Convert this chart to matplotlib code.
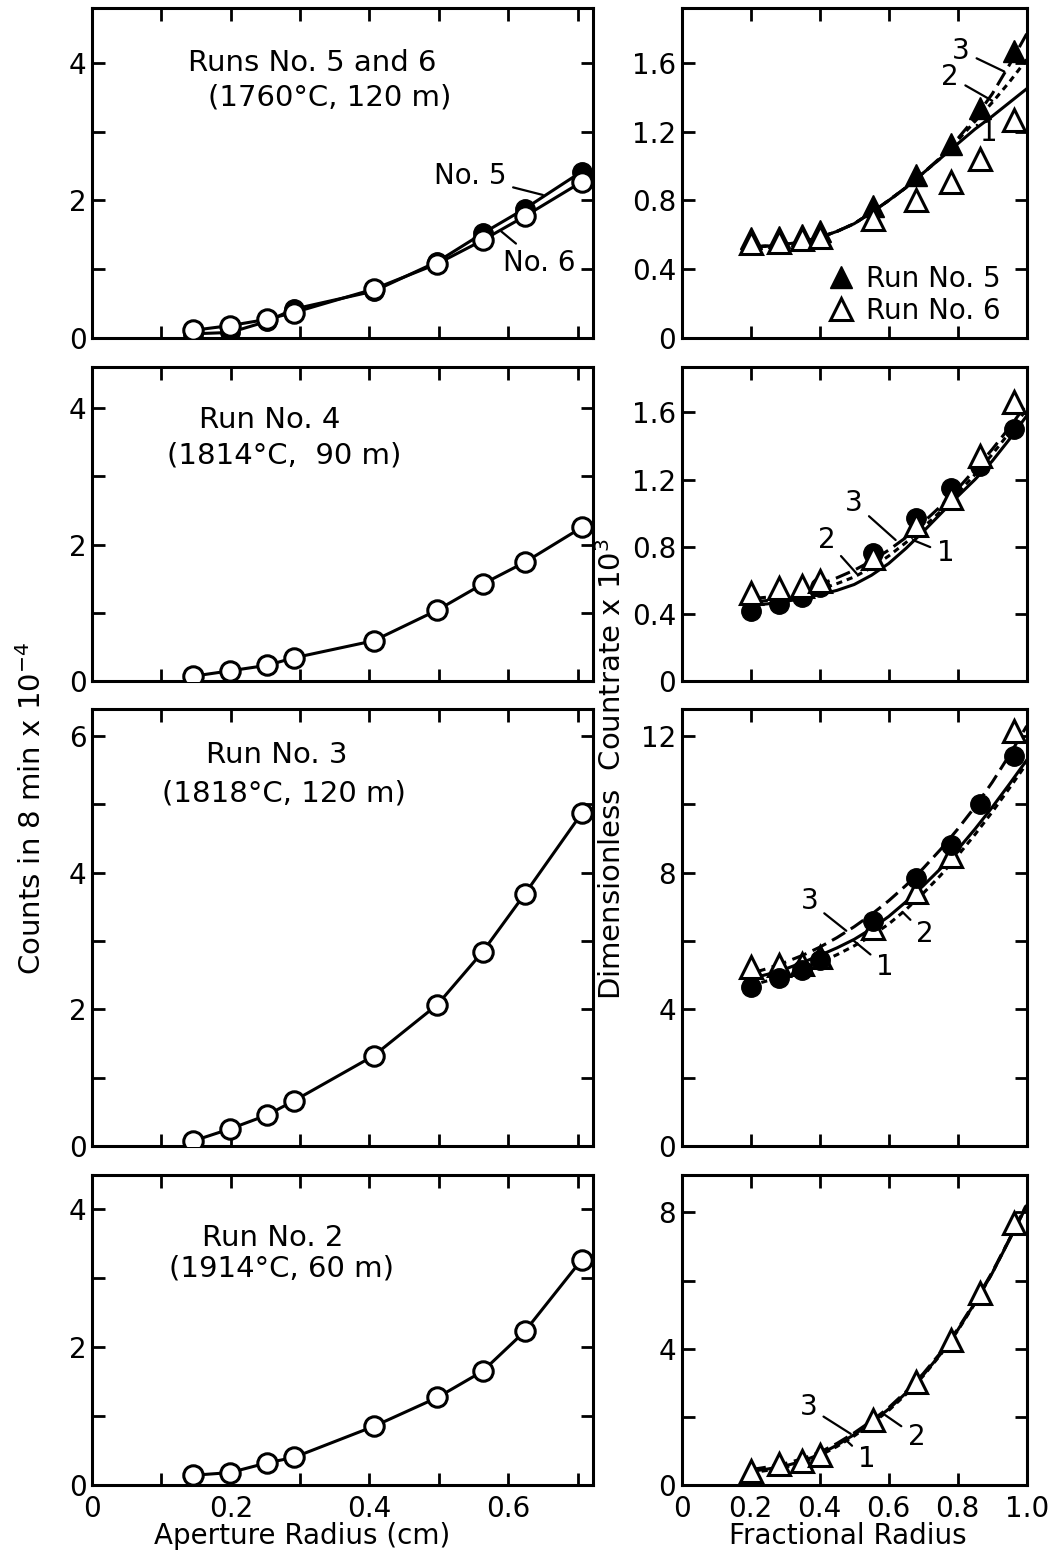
import matplotlib.pyplot as plt
import numpy as np
from matplotlib.ticker import FixedLocator, FuncFormatter

plt.rcParams['font.family'] = ['DejaVu Sans']
plt.rcParams['font.size'] = 20

# --- measured counts vs aperture radius (cm), counts in 8 min x 1e-4 ---
radius_cm = [0.145, 0.199, 0.252, 0.291, 0.406, 0.498, 0.563, 0.624, 0.706]
counts_run5 = [0.06, 0.08, 0.24, 0.42, 0.68, 1.11, 1.52, 1.88, 2.42]
counts_run6 = [0.11, 0.18, 0.27, 0.37, 0.71, 1.08, 1.42, 1.77, 2.27]
counts_run4 = [0.07, 0.15, 0.23, 0.34, 0.59, 1.04, 1.42, 1.74, 2.25]
counts_run3 = [0.07, 0.25, 0.45, 0.66, 1.32, 2.07, 2.84, 3.69, 4.87]
counts_run2 = [0.14, 0.18, 0.32, 0.40, 0.85, 1.27, 1.65, 2.23, 3.27]

# --- dimensionless countrate x 1e3 vs fractional radius ---
frac_pts = [0.201, 0.282, 0.350, 0.402, 0.555, 0.680, 0.780, 0.864, 0.963]
rate_run5 = [0.58, 0.59, 0.60, 0.62, 0.765, 0.95, 1.13, 1.34, 1.67]
rate_run6 = [0.55, 0.56, 0.575, 0.59, 0.69, 0.80, 0.91, 1.04, 1.27]
rate_r4_tri = [0.525, 0.554, 0.564, 0.594, 0.733, 0.93, 1.09, 1.34, 1.66]
rate_r4_dot = [0.42, 0.46, 0.50, 0.56, 0.765, 0.97, 1.15, 1.28, 1.50]
rate_r3_tri = [5.24, 5.29, 5.34, 5.54, 6.37, 7.45, 8.48, np.nan, 12.16]
rate_r3_dot = [4.66, 4.92, 5.15, 5.45, 6.60, 7.84, 8.82, 10.0, 11.42]
rate_r2_tri = [0.42, 0.62, 0.69, 0.87, 1.90, 3.03, 4.26, 5.64, 7.70]

# calculated curves 1, 2, 3
frac_grid = [0.20, 0.25, 0.30, 0.35, 0.40, 0.45, 0.50, 0.55, 0.60,
             0.65, 0.70, 0.75, 0.80, 0.85, 0.90, 0.95, 1.00]
r56_c1 = [0.53, 0.535, 0.545, 0.56, 0.585, 0.62, 0.665, 0.73, 0.80,
          0.875, 0.96, 1.045, 1.13, 1.215, 1.29, 1.37, 1.45]
r56_c2 = [0.53, 0.535, 0.545, 0.56, 0.585, 0.62, 0.665, 0.73, 0.80,
          0.875, 0.96, 1.045, 1.15, 1.26, 1.37, 1.49, 1.62]
r56_c3 = [0.53, 0.535, 0.545, 0.56, 0.585, 0.62, 0.665, 0.73, 0.80,
          0.875, 0.96, 1.05, 1.16, 1.28, 1.42, 1.59, 1.77]
r4_c1 = [0.45, 0.46, 0.475, 0.49, 0.515, 0.54, 0.575, 0.63, 0.70,
         0.79, 0.89, 0.995, 1.10, 1.20, 1.31, 1.44, 1.58]
r4_c2 = [0.47, 0.48, 0.495, 0.515, 0.545, 0.58, 0.62, 0.675, 0.745,
         0.825, 0.915, 1.01, 1.12, 1.23, 1.35, 1.48, 1.62]
r4_c3 = [0.49, 0.50, 0.52, 0.545, 0.575, 0.615, 0.66, 0.715, 0.78,
         0.855, 0.945, 1.04, 1.145, 1.26, 1.38, 1.51, 1.65]
r3_c1 = [4.90, 5.03, 5.18, 5.37, 5.58, 5.80, 6.05, 6.36, 6.72,
         7.15, 7.62, 8.12, 8.68, 9.28, 9.92, 10.6, 11.3]
r3_c2 = [4.70, 4.84, 5.00, 5.17, 5.37, 5.60, 5.86, 6.15, 6.50,
         6.92, 7.40, 7.92, 8.50, 9.12, 9.78, 10.48, 11.2]
r3_c3 = [5.05, 5.20, 5.38, 5.58, 5.82, 6.10, 6.42, 6.78, 7.18,
         7.63, 8.13, 8.68, 9.28, 9.93, 10.65, 11.45, 12.3]
r2_c1 = [0.40, 0.47, 0.56, 0.70, 0.90, 1.17, 1.48, 1.83, 2.23,
         2.70, 3.23, 3.84, 4.55, 5.35, 6.22, 7.20, 8.20]
r2_c2 = [0.36, 0.43, 0.52, 0.66, 0.86, 1.13, 1.44, 1.79, 2.19,
         2.66, 3.20, 3.82, 4.53, 5.33, 6.22, 7.22, 8.25]
r2_c3 = [0.45, 0.53, 0.63, 0.77, 0.96, 1.22, 1.53, 1.88, 2.27,
         2.74, 3.27, 3.88, 4.58, 5.38, 6.25, 7.22, 8.20]

fig = plt.figure(figsize=(10.52, 15.61), dpi=100)

# axes rectangles: rows top to bottom
row_boxes = [(0.7835, 0.2114), (0.5637, 0.2012), (0.2659, 0.2800), (0.0487, 0.1986)]
left_x, left_w = 0.0875, 0.476
right_x, right_w = 0.648, 0.328


def style(ax, xmajor, xminor, ymajor, yminor):
    for s in ax.spines.values():
        s.set_linewidth(2.2)
    ax.xaxis.set_major_locator(FixedLocator(xmajor))
    ax.xaxis.set_minor_locator(FixedLocator(xminor))
    ax.yaxis.set_major_locator(FixedLocator(ymajor))
    ax.yaxis.set_minor_locator(FixedLocator(yminor))
    ax.tick_params(which='both', direction='in', length=9, width=2,
                   top=True, right=True, labelsize=20)
    ax.tick_params(axis='y', pad=4)
    ax.tick_params(axis='x', pad=7)


def int_or_dec(v, pos=None):
    return '0' if v == 0 else ('%g' % v if v == int(v) else '%.1f' % v)


def one_dec(v, pos=None):
    return '0' if v == 0 else '%.1f' % v


open_kw = dict(marker='o', ms=14, mfc='white', mec='black', mew=2.2, ls='none', zorder=4)
dot_kw = dict(marker='o', ms=14, mfc='black', mec='black', ls='none', zorder=4)
otri_kw = dict(marker='^', ms=16, mfc='white', mec='black', mew=2.2, ls='none', zorder=5)
ftri_kw = dict(marker='^', ms=16, mfc='black', mec='black', ls='none', zorder=4)
c1_kw = dict(color='black', lw=2.2, ls='-', zorder=2)
c2_kw = dict(color='black', lw=2.2, ls=(0, (2.0, 1.6)), zorder=2)
c3_kw = dict(color='black', lw=2.2, ls=(0, (5.0, 2.2)), zorder=2)
lead = dict(arrowstyle='-', lw=1.6, color='black', shrinkA=3, shrinkB=0)

left_ylims = [4.8, 4.6, 6.4, 4.5]
right_ylims = [1.92, 1.87, 12.8, 9.1]

axes_l, axes_r = [], []
for i, (b, h) in enumerate(row_boxes):
    al = fig.add_axes([left_x, b, left_w, h])
    ar = fig.add_axes([right_x, b, right_w, h])
    al.set_xlim(0, 0.722)
    al.set_ylim(0, left_ylims[i])
    ar.set_xlim(0, 1.0)
    ar.set_ylim(0, right_ylims[i])
    top = left_ylims[i]
    style(al, [0, 0.2, 0.4, 0.6], [0.1, 0.3, 0.5, 0.7],
          list(range(0, int(top) + 1, 2)), list(range(1, int(top) + 1, 2)))
    if i < 2:
        style(ar, [0, 0.2, 0.4, 0.6, 0.8, 1.0], [],
              [0, 0.4, 0.8, 1.2, 1.6], [])
    elif i == 2:
        style(ar, [0, 0.2, 0.4, 0.6, 0.8, 1.0], [], [0, 4, 8, 12], [2, 6, 10])
    else:
        style(ar, [0, 0.2, 0.4, 0.6, 0.8, 1.0], [], [0, 4, 8], [2, 6])
    for a in (al, ar):
        a.xaxis.set_major_formatter(FuncFormatter(one_dec))
        a.yaxis.set_major_formatter(FuncFormatter(int_or_dec))
        if i < 3:
            a.tick_params(labelbottom=False)
    axes_l.append(al)
    axes_r.append(ar)

# ---- left column: counts vs aperture radius ----
ax = axes_l[0]
ax.plot(radius_cm, counts_run5, color='black', lw=2.2, zorder=2)
ax.plot(radius_cm, counts_run5, **dot_kw)
ax.plot(radius_cm, counts_run6, color='black', lw=2.2, zorder=3)
ax.plot(radius_cm, counts_run6, **dict(open_kw, zorder=5))
ax.text(0.318, 4.0, 'Runs No. 5 and 6', ha='center', va='center', fontsize=21)
ax.text(0.343, 3.5, '(1760°C, 120 m)', ha='center', va='center', fontsize=21)
ax.annotate('No. 5', xy=(0.65, 2.08), xytext=(0.545, 2.35),
            ha='center', va='center', arrowprops=lead)
ax.annotate('No. 6', xy=(0.59, 1.55), xytext=(0.645, 1.09),
            ha='center', va='center', arrowprops=lead)

panels = [(axes_l[1], counts_run4, 'Run No. 4', '(1814°C,  90 m)', (0.256, 3.82), (0.277, 3.31)),
          (axes_l[2], counts_run3, 'Run No. 3', '(1818°C, 120 m)', (0.267, 5.72), (0.277, 5.16)),
          (axes_l[3], counts_run2, 'Run No. 2', '(1914°C, 60 m)', (0.26, 3.58), (0.273, 3.14))]
for ax, counts, name, cond, p1, p2 in panels:
    ax.plot(radius_cm, counts, color='black', lw=2.2, zorder=2)
    ax.plot(radius_cm, counts, **open_kw)
    ax.text(p1[0], p1[1], name, ha='center', va='center', fontsize=21)
    ax.text(p2[0], p2[1], cond, ha='center', va='center', fontsize=21)

# ---- right column: dimensionless countrate ----
ax = axes_r[0]
ax.plot(frac_grid, r56_c1, **c1_kw)
ax.plot(frac_grid, r56_c2, **c2_kw)
ax.plot(frac_grid, r56_c3, **c3_kw)
ax.plot(frac_pts, rate_run5, label='Run No. 5', **ftri_kw)
ax.plot(frac_pts, rate_run6, label='Run No. 6', **otri_kw)
ax.annotate('3', xy=(0.935, 1.55), xytext=(0.81, 1.67), ha='center', va='center', arrowprops=lead)
ax.annotate('2', xy=(0.90, 1.38), xytext=(0.778, 1.52), ha='center', va='center', arrowprops=lead)
ax.annotate('1', xy=(0.855, 1.24), xytext=(0.89, 1.19), ha='center', va='center', arrowprops=lead)
ax.legend(loc='lower right', bbox_to_anchor=(0.98, -0.02), frameon=False, fontsize=20,
          handlelength=0.8, handletextpad=0.5, labelspacing=0.15, borderpad=0.2)

ax = axes_r[1]
ax.plot(frac_grid, r4_c1, **c1_kw)
ax.plot(frac_grid, r4_c2, **c2_kw)
ax.plot(frac_grid, r4_c3, **c3_kw)
ax.plot(frac_pts, rate_r4_dot, **dot_kw)
ax.plot(frac_pts, rate_r4_tri, **otri_kw)
ax.annotate('3', xy=(0.62, 0.84), xytext=(0.50, 1.06), ha='center', va='center', arrowprops=lead)
ax.annotate('2', xy=(0.507, 0.64), xytext=(0.42, 0.84), ha='center', va='center', arrowprops=lead)
ax.annotate('1', xy=(0.67, 0.84), xytext=(0.765, 0.76), ha='center', va='center', arrowprops=lead)

ax = axes_r[2]
ax.plot(frac_grid, r3_c1, **c1_kw)
ax.plot(frac_grid, r3_c2, **c2_kw)
ax.plot(frac_grid, r3_c3, **c3_kw)
ax.plot(frac_pts, rate_r3_tri, **otri_kw)
ax.plot(frac_pts, rate_r3_dot, **dict(dot_kw, zorder=6))
ax.annotate('3', xy=(0.477, 6.3), xytext=(0.37, 7.16), ha='center', va='center', arrowprops=lead)
ax.annotate('2', xy=(0.64, 6.85), xytext=(0.705, 6.2), ha='center', va='center', arrowprops=lead)
ax.annotate('1', xy=(0.496, 6.03), xytext=(0.59, 5.25), ha='center', va='center', arrowprops=lead)

ax = axes_r[3]
ax.plot(frac_grid, r2_c1, **c1_kw)
ax.plot(frac_grid, r2_c2, **c2_kw)
ax.plot(frac_grid, r2_c3, **c3_kw)
ax.plot(frac_pts, rate_r2_tri, **otri_kw)
ax.annotate('3', xy=(0.49, 1.5), xytext=(0.367, 2.29), ha='center', va='center', arrowprops=lead)
ax.annotate('2', xy=(0.59, 2.05), xytext=(0.68, 1.42), ha='center', va='center', arrowprops=lead)
ax.annotate('1', xy=(0.478, 1.3), xytext=(0.536, 0.75), ha='center', va='center', arrowprops=lead)

# axis titles
fig.text(0.030, 0.482, 'Counts in 8 min x 10$^{-4}$', rotation=90, ha='center', va='center', fontsize=21)
fig.text(0.582, 0.507, 'Dimensionless  Countrate x 10$^{3}$', rotation=90, ha='center', va='center', fontsize=21)
fig.text(0.287, 0.016, 'Aperture Radius (cm)', ha='center', va='center', fontsize=20)
fig.text(0.806, 0.016, 'Fractional Radius', ha='center', va='center', fontsize=20)

fig.savefig('out.png', dpi=100)
